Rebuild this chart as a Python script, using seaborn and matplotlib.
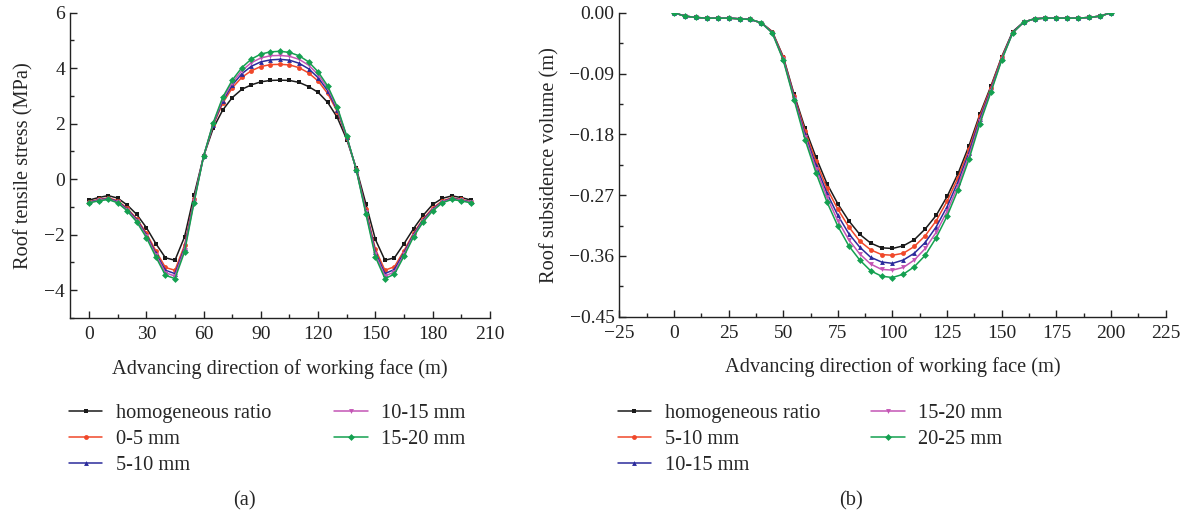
import numpy as np
import pandas as pd
import matplotlib
matplotlib.use("Agg")
import matplotlib.pyplot as plt
import seaborn as sns
from matplotlib.ticker import MultipleLocator, FixedLocator

sns.set_theme(style="ticks")
plt.rcParams['font.family'] = ['Liberation Serif', 'DejaVu Serif']
plt.rcParams['axes.unicode_minus'] = True

# ---------------- data: panel (a) ----------------
x_a = list(range(0, 205, 5))
labels_a = ["homogeneous ratio", "0-5 mm", "5-10 mm", "10-15 mm", "15-20 mm"]
stress_homog = [-0.75, -0.66, -0.59, -0.68, -0.93, -1.27, -1.74, -2.32, -2.83, -2.92,
                -2.08, -0.57, 0.83, 1.83, 2.49, 2.94, 3.24, 3.40, 3.51, 3.56,
                3.57, 3.56, 3.49, 3.34, 3.13, 2.77, 2.23, 1.43, 0.39, -0.88,
                -2.17, -2.92, -2.83, -2.32, -1.78, -1.30, -0.91, -0.69, -0.60, -0.66, -0.75]
stress_0_5 = [-0.81, -0.73, -0.67, -0.77, -1.05, -1.42, -1.94, -2.58, -3.18, -3.28,
              -2.38, -0.72, 0.83, 1.94, 2.74, 3.29, 3.67, 3.91, 4.06, 4.13,
              4.14, 4.12, 4.02, 3.83, 3.54, 3.09, 2.44, 1.50, 0.36, -1.08,
              -2.52, -3.28, -3.15, -2.57, -1.94, -1.43, -1.04, -0.78, -0.67, -0.73, -0.81]
stress_5_10 = [-0.82, -0.75, -0.69, -0.80, -1.08, -1.46, -2.00, -2.67, -3.28, -3.40,
               -2.47, -0.76, 0.83, 1.97, 2.82, 3.39, 3.80, 4.07, 4.23, 4.30,
               4.32, 4.29, 4.18, 3.98, 3.66, 3.19, 2.50, 1.52, 0.35, -1.14,
               -2.62, -3.40, -3.25, -2.64, -1.99, -1.47, -1.08, -0.81, -0.69, -0.75, -0.82]
stress_10_15 = [-0.84, -0.76, -0.71, -0.83, -1.11, -1.50, -2.05, -2.73, -3.37, -3.49,
                -2.54, -0.80, 0.83, 2.00, 2.89, 3.48, 3.91, 4.20, 4.37, 4.45,
                4.46, 4.43, 4.32, 4.11, 3.77, 3.28, 2.56, 1.53, 0.34, -1.19,
                -2.71, -3.49, -3.34, -2.71, -2.03, -1.51, -1.11, -0.83, -0.71, -0.76, -0.83]
stress_15_20 = [-0.85, -0.78, -0.73, -0.85, -1.14, -1.54, -2.10, -2.80, -3.46, -3.58,
                -2.62, -0.84, 0.83, 2.03, 2.95, 3.57, 4.02, 4.33, 4.51, 4.59,
                4.61, 4.57, 4.45, 4.23, 3.87, 3.36, 2.61, 1.55, 0.33, -1.24,
                -2.80, -3.58, -3.42, -2.77, -2.07, -1.54, -1.14, -0.85, -0.73, -0.78, -0.85]

# ---------------- data: panel (b) ----------------
x_b = list(range(0, 205, 5))
labels_b = ["homogeneous ratio", "5-10 mm", "10-15 mm", "15-20 mm", "20-25 mm"]
sub_homog = [0, -0.005, -0.007, -0.008, -0.008, -0.008, -0.009, -0.010, -0.015, -0.028,
             -0.065, -0.121, -0.171, -0.214, -0.253, -0.283, -0.308, -0.328, -0.341, -0.348,
             -0.349, -0.345, -0.336, -0.320, -0.300, -0.272, -0.238, -0.197, -0.150, -0.109,
             -0.065, -0.028, -0.014, -0.009, -0.008, -0.008, -0.008, -0.008, -0.007, -0.005, 0]
sub_5_10 = [0, -0.005, -0.007, -0.008, -0.008, -0.008, -0.009, -0.010, -0.015, -0.028,
            -0.066, -0.123, -0.175, -0.220, -0.260, -0.291, -0.317, -0.338, -0.351, -0.358,
            -0.359, -0.356, -0.346, -0.330, -0.308, -0.279, -0.244, -0.202, -0.153, -0.111,
            -0.066, -0.029, -0.014, -0.009, -0.008, -0.008, -0.008, -0.008, -0.007, -0.005, 0]
sub_10_15 = [0, -0.005, -0.007, -0.008, -0.008, -0.008, -0.009, -0.010, -0.015, -0.029,
             -0.068, -0.125, -0.180, -0.226, -0.267, -0.300, -0.327, -0.347, -0.362, -0.369,
             -0.371, -0.366, -0.356, -0.340, -0.317, -0.287, -0.250, -0.207, -0.157, -0.114,
             -0.068, -0.029, -0.014, -0.009, -0.008, -0.008, -0.008, -0.008, -0.007, -0.005, 0]
sub_15_20 = [0, -0.005, -0.007, -0.008, -0.008, -0.008, -0.009, -0.010, -0.015, -0.030,
             -0.069, -0.127, -0.184, -0.231, -0.273, -0.308, -0.336, -0.357, -0.372, -0.380,
             -0.381, -0.377, -0.366, -0.349, -0.325, -0.294, -0.256, -0.212, -0.161, -0.116,
             -0.069, -0.030, -0.014, -0.009, -0.008, -0.008, -0.008, -0.008, -0.007, -0.005, 0]
sub_20_25 = [0, -0.005, -0.007, -0.008, -0.008, -0.008, -0.009, -0.010, -0.015, -0.030,
             -0.070, -0.129, -0.188, -0.237, -0.280, -0.316, -0.345, -0.366, -0.382, -0.390,
             -0.392, -0.387, -0.376, -0.359, -0.333, -0.301, -0.262, -0.217, -0.164, -0.118,
             -0.070, -0.030, -0.014, -0.009, -0.008, -0.008, -0.008, -0.008, -0.007, -0.005, 0]

series_a = [stress_homog, stress_0_5, stress_5_10, stress_10_15, stress_15_20]
series_b = [sub_homog, sub_5_10, sub_10_15, sub_15_20, sub_20_25]

colors = ["#1a1a1a", "#f0482a", "#2b2b9b", "#c455b5", "#14a050"]
markers = ["s", "o", "^", "v", "D"]

FS = 14
FSL = 14.7
fig = plt.figure(figsize=(11.88, 5.17), dpi=100)
ax_a = fig.add_axes([0.0589, 0.3849, 0.3535, 0.5905])
ax_b = fig.add_axes([0.5213, 0.3874, 0.4599, 0.5880])


def draw(ax, x, series, labels):
    for vals, lab, c, m in zip(series, labels, colors, markers):
        df = pd.DataFrame({"x": x, "y": vals})
        sns.lineplot(data=df, x="x", y="y", ax=ax, color=c, marker=m,
                     markersize=3.5, markeredgewidth=0, linewidth=1.1, label=lab)


draw(ax_a, x_a, series_a, labels_a)
draw(ax_b, x_b, series_b, labels_b)

for ax in (ax_a, ax_b):
    sns.despine(ax=ax)
    for s in ("left", "bottom"):
        ax.spines[s].set_linewidth(1.0)
        ax.spines[s].set_color("#222222")
    ax.tick_params(which="major", direction="in", length=5, width=1, labelsize=FS, colors="#222222")
    ax.tick_params(which="minor", direction="in", length=3, width=1, colors="#222222")
    ax.tick_params(axis="x", pad=6)

ax_a.set_xlim(-10, 210)
ax_a.set_ylim(-5, 6)
ax_a.xaxis.set_major_locator(FixedLocator([0, 30, 60, 90, 120, 150, 180, 210]))
ax_a.xaxis.set_minor_locator(MultipleLocator(15))
ax_a.yaxis.set_major_locator(FixedLocator([-4, -2, 0, 2, 4, 6]))
ax_a.yaxis.set_minor_locator(MultipleLocator(1))
ax_a.set_xlabel("Advancing direction of working face (m)", fontsize=FSL, labelpad=11)
ax_a.set_ylabel("Roof tensile stress (MPa)", fontsize=FSL, labelpad=8)

ax_b.set_xlim(-25, 225)
ax_b.set_ylim(-0.45, 0)
ax_b.xaxis.set_major_locator(MultipleLocator(25))
ax_b.xaxis.set_minor_locator(MultipleLocator(12.5))
ax_b.yaxis.set_major_locator(FixedLocator([-0.45, -0.36, -0.27, -0.18, -0.09, 0.0]))
ax_b.yaxis.set_minor_locator(MultipleLocator(0.045))
ax_b.yaxis.set_major_formatter(matplotlib.ticker.FuncFormatter(
    lambda v, p: ("0.00" if abs(v) < 1e-9 else "\u2212%.2f" % abs(v))))
ax_b.set_xlabel("Advancing direction of working face (m)", fontsize=FSL, labelpad=11)
ax_b.set_ylabel("Roof subsidence volume (m)", fontsize=FSL, labelpad=7)

for ax, xa, cs in ((ax_a, 0.051, 3.1), (ax_b, 0.513, 2.5)):
    leg = ax.legend(loc="upper left", bbox_to_anchor=(xa, 0.235), bbox_transform=fig.transFigure,
                    ncol=2, frameon=False, fontsize=FSL, handlelength=1.65, handletextpad=0.65,
                    columnspacing=cs, labelspacing=0.33, borderaxespad=0)

fig.text(0.206, 0.032, "(a)", ha="center", va="center", fontsize=FSL)
fig.text(0.716, 0.032, "(b)", ha="center", va="center", fontsize=FSL)

fig.savefig("out.png", dpi=100)
